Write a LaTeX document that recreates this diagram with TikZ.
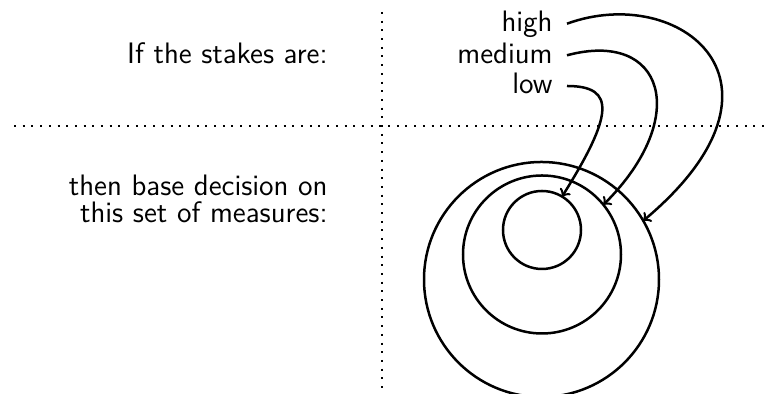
\documentclass[tikz,border=0pt]{standalone}
\begin{document}
\begin{tikzpicture}[x=0.5pt,y=0.5pt,
  font=\sffamily\fontsize{14.8}{13.5}\selectfont,
  ring/.style={circle,draw,line width=1.25pt,inner sep=0pt,outer sep=0pt},
  lab/.style={anchor=base east,inner xsep=7pt,inner ysep=0pt,text height=10pt,text depth=2pt},
  arr/.style={->,line width=1.25pt},
  dotline/.style={line width=1pt,dash pattern=on 1pt off 3.35pt}]
\useasboundingbox (0,0) rectangle (768,394);
\coordinate (vtop) at (382,382);
\coordinate (vbot) at (382,0);
\coordinate (hl) at (14,267.5);
\coordinate (hr) at (768,267.5);
\draw[dotline] (vtop) -- (vbot);
\draw[dotline] (hl) -- (hr);
\node[anchor=base east, inner sep=0pt] (q) at (328,330.5) {If the stakes are:};
\node[anchor=east, align=right, inner sep=0pt] (a) at (328,195) {then base decision on\\this set of measures:};
\node[ring,minimum size=39pt] (c1) at (542,164) {};
\node[ring,minimum size=79pt] (c2) at (542,139.5) {};
\node[ring,minimum size=117.5pt] (c3) at (541.5,114.5) {};
\node[lab] (high) at (567,362.3) {high};
\node[lab] (med) at (567,330.7) {medium};
\node[lab] (low) at (567,300) {low};
\draw[arr] (high.east) .. controls +(20:120) and +(40:215) .. (c3.30);
\draw[arr] (med.east) .. controls +(15:100) and +(45:125) .. (c2.39);
\draw[arr] (low.east) .. controls +(0:50) and +(58:95) .. (c1.59);
\end{tikzpicture}
\end{document}
